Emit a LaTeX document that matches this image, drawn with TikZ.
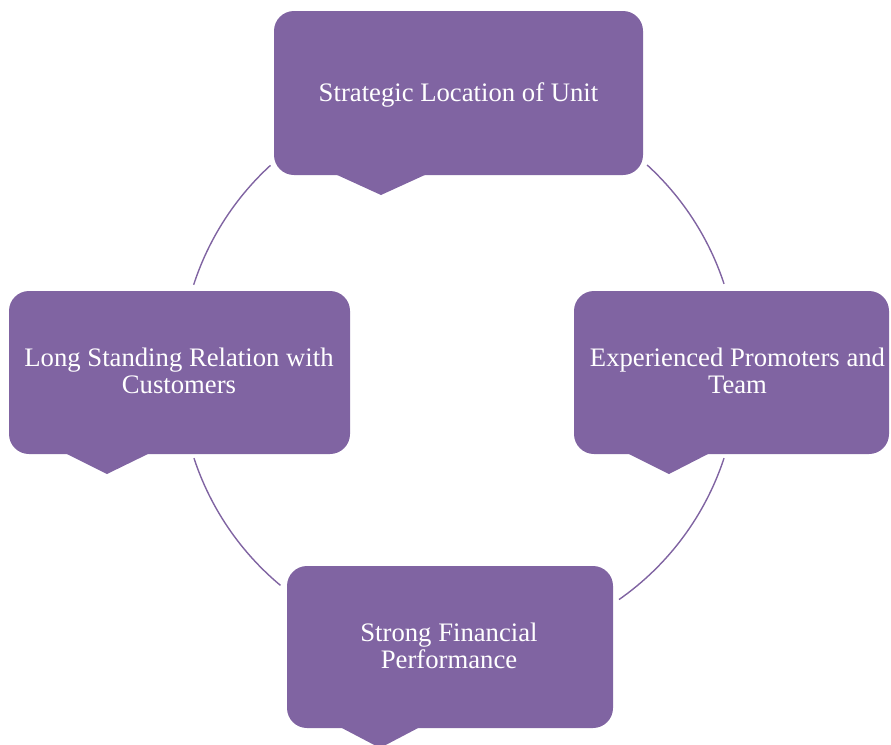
\documentclass[tikz,border=0pt]{standalone}
\usepackage{fontspec}
\setmainfont{Liberation Serif}
\definecolor{boxpurple}{HTML}{8064A2}
\begin{document}
\begin{tikzpicture}[x=1pt,y=-1pt,
  shapefill/.style={fill=boxpurple, rounded corners=20pt},
  label/.style={text=white, font=\fontsize{26.7}{27}\selectfont, align=center, inner sep=0pt, anchor=base},
  ring/.style={draw=boxpurple, line width=1.4pt}]
\useasboundingbox (0,0) rectangle (891,744);
% boxes
\fill[shapefill] (274,11) rectangle (643,175);
\fill[boxpurple] (335,174) -- (381,195) -- (427,174) -- cycle;
\fill[shapefill] (9,291) rectangle (350,454);
\fill[boxpurple] (65,453) -- (107,474) -- (150,453) -- cycle;
\fill[shapefill] (574,291) rectangle (889,454);
\fill[boxpurple] (627,453) -- (669,474) -- (710,453) -- cycle;
\fill[shapefill] (287,566) rectangle (613,728);
\fill[boxpurple] (340,727) -- (380,748) -- (420,727) -- cycle;
% texts
\node[label] (top) at (458.5,101) {Strategic Location of Unit};
\node[label] (left) at (179,393.5) {Long Standing Relation with\\Customers};
\node[label] (right) at (737.5,393.5) {Experienced Promoters and\\Team};
\node[label] (bottom) at (449,668) {Strong Financial\\Performance};
% ring arcs
\coordinate (ring) at (459,371);
\draw[ring] ([shift={(-132.5:279)}]ring) arc[start angle=-132.5, end angle=-162, radius=279];
\draw[ring] ([shift={(-198.2:279)}]ring) arc[start angle=-198.2, end angle=-230.2, radius=279];
\draw[ring] ([shift={(-305:279)}]ring) arc[start angle=-305, end angle=-341.8, radius=279];
\draw[ring] ([shift={(-18.2:279)}]ring) arc[start angle=-18.2, end angle=-47.6, radius=279];
\end{tikzpicture}
\end{document}
